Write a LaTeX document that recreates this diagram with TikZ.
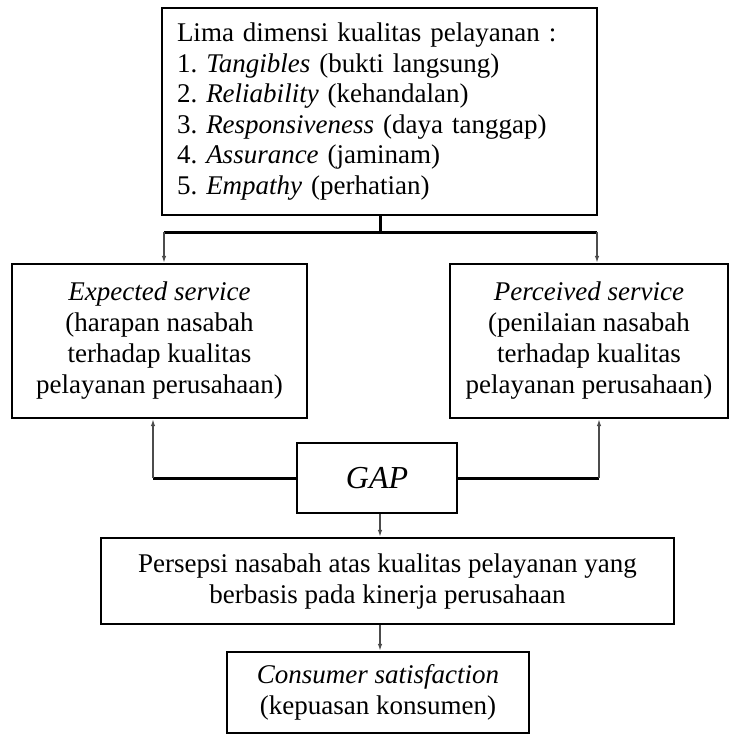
\documentclass[tikz,border=0pt]{standalone}
\usepackage{fontspec}
\setmainfont{Liberation Serif}
\usetikzlibrary{arrows.meta}
\frenchspacing
\begin{document}
\begin{tikzpicture}[x=1pt,y=-1pt,
  box/.style={draw=black,line width=2.2pt,fill=white,inner sep=0pt,align=center,
    font=\fontsize{27}{31}\selectfont},
  conn/.style={line width=3pt,black},
  arr/.style={line width=2pt,black!70,-{Latex[length=7pt,width=4.5pt]}}]
\useasboundingbox (0,0) rectangle (732,736);
\node[box,minimum width=435pt,minimum height=207pt,text width=405pt,align=left,
  font=\fontsize{27}{30.5}\selectfont] (top) at (379.5,111.5)
 {Lima dimensi kualitas pelayanan :\\
  1. \textit{Tangibles} (bukti langsung)\\
  2. \textit{Reliability} (kehandalan)\\
  3. \textit{Responsiveness} (daya tanggap)\\
  4. \textit{Assurance} (jaminam)\\
  5. \textit{Empathy} (perhatian)};
\node[box,minimum width=295pt,minimum height=154pt] (exp) at (159.5,341)
 {\textit{Expected service}\\(harapan nasabah\\terhadap kualitas\\pelayanan perusahaan)};
\node[box,minimum width=278pt,minimum height=154pt] (per) at (589,341)
 {\textit{Perceived service}\\(penilaian nasabah\\terhadap kualitas\\pelayanan perusahaan)};
\node[box,minimum width=160pt,minimum height=70pt,font=\fontsize{32}{36}\selectfont] (gap) at (377,478) {\textit{GAP}};
\node[box,minimum width=573pt,minimum height=86pt] (pers) at (387.5,581)
 {Persepsi nasabah atas kualitas pelayanan yang\\berbasis pada kinerja perusahaan};
\node[box,minimum width=302pt,minimum height=81pt] (cons) at (378,692.5)
 {\textit{Consumer satisfaction}\\(kepuasan konsumen)};
\coordinate (j) at (380,232);
\coordinate (jl) at (164,232);
\coordinate (jr) at (597,232);
\coordinate (gl) at (153,478);
\coordinate (gr) at (599,478);
\draw[conn] (top.south -| j) -- (j);
\draw[conn] (jl) -- (jr);
\draw[arr] (jl) -- (jl |- exp.north);
\draw[arr] (jr) -- (jr |- per.north);
\draw[conn] (gap.west) -- (gl);
\draw[arr] (gl) -- (gl |- exp.south);
\draw[conn] (gap.east) -- (gr);
\draw[arr] (gr) -- (gr |- per.south);
\draw[arr] (gap.south -| j) -- (j |- pers.north);
\draw[arr] (pers.south -| j) -- (j |- cons.north);
\end{tikzpicture}
\end{document}
